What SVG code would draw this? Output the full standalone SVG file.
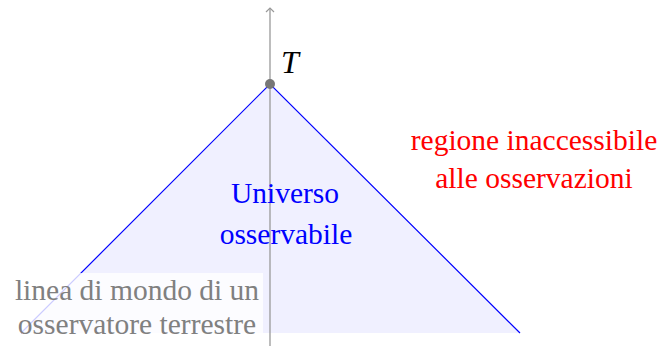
<svg xmlns="http://www.w3.org/2000/svg" width="660" height="347" viewBox="0 0 660 347">
<style>
.lbl{font-family:"Liberation Serif","DejaVu Serif",serif;font-size:29.5px;text-anchor:middle}
.blue{fill:#0000ff}.red{fill:#ff0000}.gray{fill:#808080}
</style>
<defs>
<marker id="arr" markerWidth="10" markerHeight="10" refX="5" refY="1" orient="0" markerUnits="userSpaceOnUse" viewBox="0 0 10 10">
<path d="M1,5 L5,1 L9,5" fill="none" stroke="#999" stroke-width="1.2"/>
</marker>
</defs>
<g id="cone">
<polygon points="270,84 520,333 21,333" fill="#0000ff" fill-opacity="0.06" stroke="none"/>
<polyline points="21,333 270,84 520,333" fill="none" stroke="#0000ff" stroke-width="1.2"/>
</g>
<g id="connectors">
<line x1="270" y1="346" x2="270" y2="8" stroke="#999" stroke-width="1.3" marker-end="url(#arr)"/>
</g>
<g id="event-T">
<circle cx="270" cy="84" r="5" fill="#777"/>
<text x="281" y="73" font-family="Liberation Serif, DejaVu Serif, serif" font-style="italic" font-size="32" fill="#000">T</text>
</g>
<g id="label-worldline">
<rect x="10" y="273" width="253" height="60" fill="#ffffff" fill-opacity="0.8"/>
<text class="lbl gray" x="137" y="300">linea di mondo di un</text>
<text class="lbl gray" x="137" y="334">osservatore terrestre</text>
</g>
<g id="label-universe">
<text class="lbl blue" x="285" y="203">Universo</text>
<text class="lbl blue" x="286" y="244">osservabile</text>
</g>
<g id="label-region">
<text class="lbl red" x="534" y="150">regione inaccessibile</text>
<text class="lbl red" x="534" y="188">alle osservazioni</text>
</g>
</svg>
